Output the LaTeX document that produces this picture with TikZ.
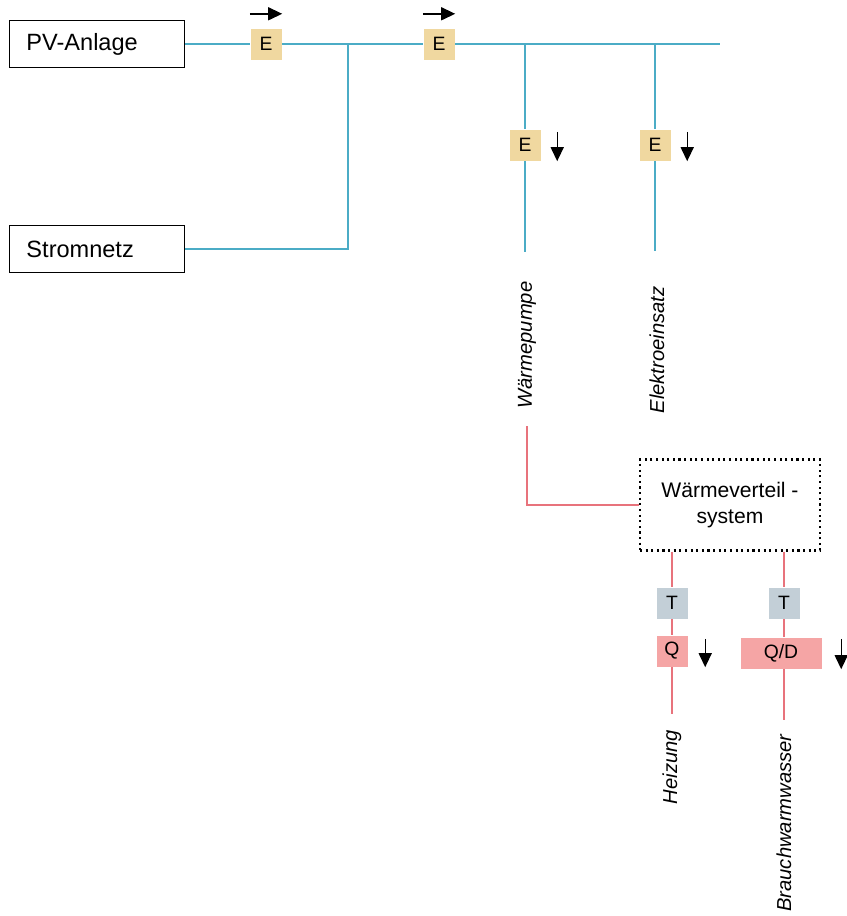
\documentclass[tikz,border=0pt]{standalone}
\usepackage{fontspec}
\setmainfont{Liberation Sans}
\usetikzlibrary{arrows.meta, positioning, calc}
\definecolor{cfeed}{HTML}{4BACC6}
\definecolor{cheat}{HTML}{E8737C}
\definecolor{cenergy}{HTML}{F0D8A0}
\definecolor{ctemp}{HTML}{C3CFD7}
\definecolor{cflow}{HTML}{F5A5A5}
\tikzset{
  every picture/.style={line width=0.8pt},
  unit/.style={draw, line width=1.1pt, minimum width=35mm, minimum height=9.4mm, text width=28.2mm, align=left, inner xsep=3.4mm, inner ysep=2mm, font=\fontsize{13.4}{16}\selectfont},
  tag/.style={fill=#1, minimum width=6.2mm, minimum height=6.2mm, inner sep=0pt, font=\fontsize{11}{13}\selectfont},
  tag/.default=cenergy,
  feed/.style={draw=cfeed, line width=1.1pt},
  heat/.style={draw=cheat, line width=1.1pt},
  flow/.style={-{Triangle[length=2.8mm, width=2.6mm]}, draw=black, line width=0.8pt},
  consumer/.style={rotate=90, font=\itshape\fontsize{11.5}{14}\selectfont},
}

\begin{document}
\begin{tikzpicture}[x=0.2mm, y=-0.2mm]
  \useasboundingbox (0,0) rectangle (847,916);
  \node[unit] (pv) at (97,44) {PV-Anlage};
  \node[unit] (grid) at (97,249) {Stromnetz};
  \node[tag] (e1) at (266,44) {E};
  \node[tag] (e2) at (439,44) {E};
  \node[tag] (e3) at (525,145) {E};
  \node[tag] (e4) at (655,145) {E};
  \coordinate (j1) at (348,44);
  \coordinate (j2) at (525,44);
  \coordinate (j3) at (655,44);
  \coordinate (bus) at (720,44);
  \node[consumer] (wp) at (527,345) {Wärmepumpe};
  \node[consumer] (ee) at (657,350) {Elektroeinsatz};
  \node[draw, dotted, line width=1.2pt, minimum width=36mm, minimum height=18.2mm, align=center,
    font=\fontsize{12}{15}\selectfont] (dist) at (730,505) {Wärmeverteil -\\system};
  \node[tag=ctemp] (t1) at (672,603) {T};
  \node[tag=ctemp] (t2) at (784,603) {T};
  \node[tag=cflow] (q1) at (672,651) {Q};
  \node[tag=cflow, minimum width=16.2mm] (qd) at (781,653) {Q/D};
  \node[consumer] (hz) at (672,767) {Heizung};
  \node[consumer] (bw) at (784,823) {Brauchwarmwasser};
  % electricity
  \draw[feed] (pv) -- (e1) -- (j1) -- (e2) -- (j2) -- (j3) -- (bus);
  \draw[feed] (grid) -| (j1);
  \draw[feed, shorten >=4.6mm] (j2) -- (e3) -- (e3 |- wp.east);
  \draw[feed, shorten >=5.8mm] (j3) -- (e4) -- (e4 |- ee.east);
  % heat
  \draw[heat, shorten <=2.2mm] (wp.west) |- (dist.west);
  \draw[heat, shorten >=1.8mm] (t1 |- dist.south) -- (t1) -- (q1) -- (hz.east);
  \draw[heat] (t2 |- dist.south) -- (t2) -- (t2 |- qd.north);
  \draw[heat, shorten >=1.6mm] (t2 |- qd.south) -- (bw.east);
  % flow directions
  \draw[flow] ([yshift=2.8mm]e1.north west) -- ([yshift=2.8mm]e1.north east);
  \draw[flow] ([yshift=2.8mm]e2.north west) -- ([yshift=2.8mm]e2.north east);
  \draw[flow] ([xshift=3.2mm, yshift=-0.6mm]e3.north east) -- ([xshift=3.2mm]e3.south east);
  \draw[flow] ([xshift=3.2mm, yshift=-0.6mm]e4.north east) -- ([xshift=3.2mm]e4.south east);
  \draw[flow] ([xshift=3.4mm, yshift=-0.8mm]q1.north east) -- ([xshift=3.4mm]q1.south east);
  \draw[flow] ([xshift=3.8mm, yshift=-0.4mm]qd.north east) -- ([xshift=3.8mm]qd.south east);
\end{tikzpicture}
\end{document}
